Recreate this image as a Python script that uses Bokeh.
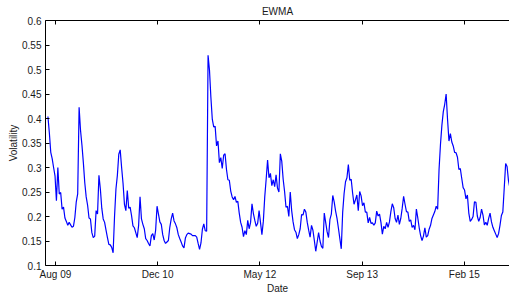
from datetime import datetime
import pandas as pd
from bokeh.plotting import figure
from bokeh.models import Range1d, FixedTicker, DatetimeAxis, DatetimeTickFormatter
from bokeh.embed import file_html
from bokeh.resources import INLINE

title = "EWMA"
x_label = "Date"
y_label = "Volatility"
start_date = "2009-06-25"
tick_dates = ["2009-08-01", "2010-12-19", "2012-05-07", "2013-09-24", "2015-02-11"]
y_ticks = [0.1, 0.15, 0.2, 0.25, 0.3, 0.35, 0.4, 0.45, 0.5, 0.55, 0.6]
y_labels = ["0.1", "0.15", "0.2", "0.25", "0.3", "0.35", "0.4", "0.45", "0.5", "0.55", "0.6"]

# weekly EWMA volatility readings
vol = [
    0.404, 0.371, 0.331, 0.318, 0.300, 0.283, 0.232, 0.300, 0.246, 0.249,
    0.215, 0.219, 0.197, 0.190, 0.182, 0.188, 0.183, 0.178, 0.180, 0.198,
    0.230, 0.246, 0.423, 0.376, 0.346, 0.310, 0.269, 0.240, 0.223, 0.197,
    0.195, 0.167, 0.157, 0.160, 0.212, 0.205, 0.284, 0.256, 0.217, 0.195,
    0.188, 0.172, 0.157, 0.143, 0.142, 0.137, 0.126, 0.200, 0.256, 0.284,
    0.327, 0.336, 0.300, 0.268, 0.225, 0.212, 0.253, 0.217, 0.219, 0.202,
    0.181, 0.177, 0.167, 0.157, 0.182, 0.240, 0.195, 0.184, 0.175, 0.155,
    0.151, 0.145, 0.140, 0.161, 0.165, 0.152, 0.172, 0.221, 0.205, 0.189,
    0.184,
    0.163, 0.151, 0.145, 0.148, 0.151, 0.178, 0.195, 0.207, 0.191, 0.185,
    0.177, 0.163, 0.155, 0.148, 0.140, 0.136, 0.156, 0.163, 0.166, 0.165,
    0.164, 0.161, 0.161, 0.161, 0.158, 0.145, 0.133, 0.146, 0.174, 0.185,
    0.171, 0.170, 0.529, 0.499, 0.443, 0.398, 0.383, 0.384, 0.344, 0.354,
    0.310,
    0.320, 0.298, 0.325, 0.328, 0.296, 0.275, 0.274, 0.252, 0.240, 0.234,
    0.241, 0.229, 0.231, 0.207, 0.188, 0.178, 0.159, 0.171, 0.163, 0.192,
    0.175, 0.188, 0.226, 0.206, 0.192, 0.180, 0.186, 0.212, 0.188, 0.163,
    0.190, 0.240, 0.276, 0.315, 0.279, 0.288, 0.263, 0.275, 0.261, 0.285,
    0.258,
    0.250, 0.328, 0.313, 0.276, 0.251, 0.219, 0.221, 0.200, 0.250, 0.212,
    0.189, 0.173, 0.168, 0.155, 0.163, 0.175, 0.204, 0.203, 0.215, 0.209,
    0.188, 0.172, 0.158, 0.182, 0.172, 0.151, 0.129, 0.148, 0.167, 0.150,
    0.139, 0.135, 0.207, 0.188, 0.169, 0.157, 0.194, 0.205, 0.243, 0.230,
    0.211,
    0.196, 0.176, 0.155, 0.134, 0.209, 0.247, 0.271, 0.279, 0.306, 0.274,
    0.276, 0.248, 0.225, 0.234, 0.244, 0.212, 0.251, 0.242, 0.222, 0.228,
    0.209, 0.209, 0.187, 0.198, 0.186, 0.187, 0.182, 0.187, 0.211, 0.201,
    0.205, 0.188, 0.164, 0.180, 0.175, 0.188, 0.178, 0.189, 0.210, 0.226,
    0.218,
    0.196, 0.188, 0.203, 0.184, 0.196, 0.217, 0.241, 0.225, 0.210, 0.209,
    0.190, 0.193, 0.178, 0.182, 0.173, 0.215, 0.197, 0.177, 0.161, 0.151,
    0.160, 0.177, 0.158, 0.161, 0.174, 0.182, 0.196, 0.203, 0.210, 0.221,
    0.215, 0.296, 0.347, 0.386, 0.414, 0.429, 0.450, 0.398, 0.354, 0.369,
    0.352,
    0.344, 0.331, 0.330, 0.321, 0.296, 0.298, 0.278, 0.259, 0.254, 0.236,
    0.244, 0.207, 0.190, 0.194, 0.200, 0.230, 0.229, 0.201, 0.190, 0.198,
    0.215, 0.203, 0.183, 0.188, 0.182, 0.196, 0.207, 0.189, 0.178, 0.171,
    0.164, 0.157, 0.165, 0.182, 0.202, 0.209, 0.258, 0.308, 0.302, 0.273,
    0.258,
]

dates = pd.date_range(start_date, periods=len(vol), freq="7D")

FONT = "Liberation Sans"
TXT = "#1a1a1a"

x_start = datetime(2009, 6, 13)
x_end = datetime(2015, 9, 22)
tick_ms = [pd.Timestamp(d).value // 10**6 for d in tick_dates]

p = figure(width=509, height=296, x_axis_type="datetime",
           output_backend="svg", toolbar_location=None,
           x_range=Range1d(x_start, x_end), y_range=Range1d(0.1, 0.6),
           min_border_left=45, min_border_right=0, min_border_top=20,
           min_border_bottom=29)

p.title.text = title
p.title.align = "center"
p.title.text_font = FONT
p.title.text_font_size = "10px"
p.title.text_font_style = "normal"
p.title.text_color = TXT
p.title.standoff = 7
p.title.offset = 3

p.grid.visible = False
p.outline_line_color = None
p.background_fill_color = "white"
p.border_fill_color = "white"

fmt = DatetimeTickFormatter(days="%b %y", months="%b %y", years="%b %y")

xa = p.xaxis[0]
xa.ticker = FixedTicker(ticks=tick_ms)
xa.formatter = fmt
xa.axis_label = x_label
xa.major_label_standoff = 3
xa.axis_label_standoff = 0

ya = p.yaxis[0]
ya.ticker = FixedTicker(ticks=y_ticks)
ya.major_label_overrides = {t: l for t, l in zip(y_ticks, y_labels)}
ya.axis_label = y_label
ya.major_label_standoff = 4
ya.axis_label_standoff = 0

for ax in (xa, ya):
    ax.major_tick_in = 4
    ax.major_tick_out = 0
    ax.minor_tick_line_color = None
    ax.axis_line_color = "black"
    ax.major_tick_line_color = "black"
    ax.major_label_text_font = FONT
    ax.major_label_text_font_size = "10px"
    ax.major_label_text_color = TXT
    ax.axis_label_text_font = FONT
    ax.axis_label_text_font_size = "10px"
    ax.axis_label_text_font_style = "normal"
    ax.axis_label_text_color = TXT

top = DatetimeAxis(ticker=FixedTicker(ticks=tick_ms), formatter=fmt,
                   major_tick_in=4, major_tick_out=0,
                   minor_tick_line_color=None,
                   major_label_text_font_size="0px", major_label_standoff=0)
p.add_layout(top, "above")

p.line(dates, vol, line_color="#0000ff", line_width=1.2)

open("out.html", "w").write(file_html(p, INLINE))
